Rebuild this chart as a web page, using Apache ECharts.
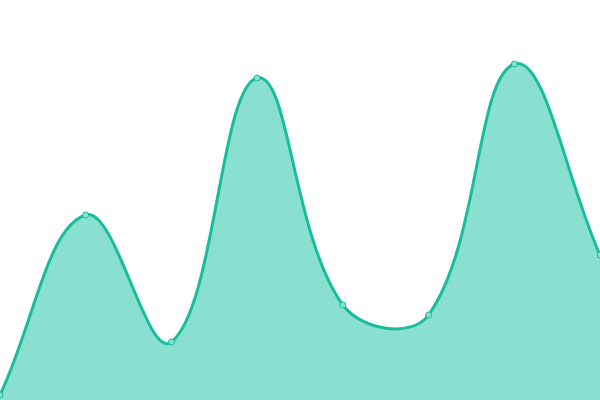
<!DOCTYPE html>
<html>
<head>
<meta charset="utf-8">
<script src="https://cdn.jsdelivr.net/npm/echarts@6/dist/echarts.min.js"></script>
<style>
html, body { margin: 0; padding: 0; background: #fff; }
#container { width: 600px; height: 400px; }
</style>
</head>
<body>
<div id="container"></div>
<script>
var categories = ['1', '2', '3', '4', '5', '6', '7', '8'];
var values = [5, 185, 58, 322, 95, 85, 336, 145];

var lineColor = '#1abc9c';
var fillColor = '#8ae0d0';
var tension = 0.4;

// cardinal-style spline through the points (pixel space), returns svg path
function splinePath(pts) {
    var cps = [];
    for (var i = 0; i < pts.length; i++) {
        var prev = pts[i - 1] || pts[i];
        var cur = pts[i];
        var next = pts[i + 1] || pts[i];
        var d01 = Math.hypot(cur[0] - prev[0], cur[1] - prev[1]);
        var d12 = Math.hypot(next[0] - cur[0], next[1] - cur[1]);
        var s01 = d01 / (d01 + d12 || 1);
        var s12 = d12 / (d01 + d12 || 1);
        var fa = tension * s01, fb = tension * s12;
        cps.push({
            prev: [cur[0] - fa * (next[0] - prev[0]), cur[1] - fa * (next[1] - prev[1])],
            next: [cur[0] + fb * (next[0] - prev[0]), cur[1] + fb * (next[1] - prev[1])]
        });
    }
    var d = 'M' + pts[0][0] + ' ' + pts[0][1];
    for (var j = 1; j < pts.length; j++) {
        var a = cps[j - 1].next, b = cps[j].prev;
        d += ' C' + a[0] + ' ' + a[1] + ' ' + b[0] + ' ' + b[1] + ' ' + pts[j][0] + ' ' + pts[j][1];
    }
    return d;
}

var myChart = echarts.init(document.getElementById('container'));
var option = {
    animation: false,
    grid: { left: 0, right: 0, top: 0, bottom: 0 },
    xAxis: {
        type: 'category',
        boundaryGap: false,
        data: categories,
        show: false
    },
    yAxis: {
        type: 'value',
        min: 0,
        max: 400,
        show: false
    },
    series: [{
        type: 'custom',
        data: values,
        renderItem: function (params, api) {
            if (params.dataIndex !== 0) return null;
            var pts = values.map(function (v, i) { return api.coord([i, v]); });
            var line = splinePath(pts);
            var base = api.coord([0, 0])[1];
            var last = pts[pts.length - 1];
            var area = line + ' L' + last[0] + ' ' + base + ' L' + pts[0][0] + ' ' + base + ' Z';
            return {
                type: 'group',
                children: [{
                    type: 'path',
                    shape: { pathData: area },
                    style: { fill: fillColor, stroke: null }
                }, {
                    type: 'path',
                    shape: { pathData: line },
                    style: { fill: null, stroke: lineColor, lineWidth: 3 }
                }]
            };
        }
    }, {
        type: 'scatter',
        data: values,
        symbol: 'circle',
        symbolSize: 6,
        z: 5,
        itemStyle: { color: fillColor, borderColor: lineColor, borderWidth: 1, opacity: 1 }
    }]
};
myChart.setOption(option);
</script>
</body>
</html>
